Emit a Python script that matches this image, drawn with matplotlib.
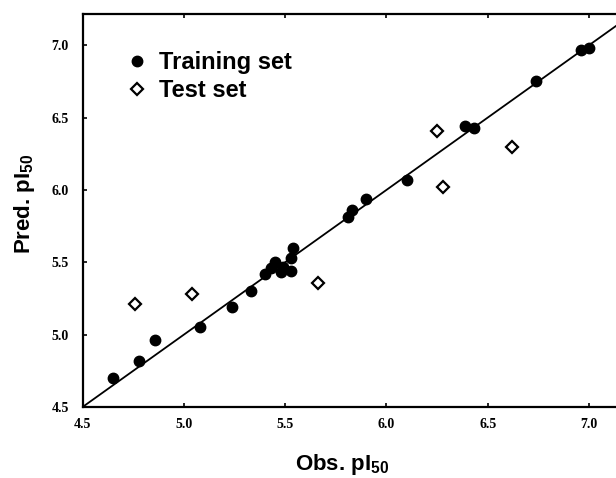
import numpy as np
from matplotlib import pyplot as plt

# training set (filled circles)
train_obs = [4.65, 4.78, 4.86, 5.08, 5.24, 5.33,
             5.40, 5.43, 5.45, 5.48, 5.49, 5.53, 5.53, 5.54,
             5.81, 5.83, 5.90, 6.10, 6.39, 6.43, 6.74, 6.96, 7.00]
train_pred = [4.70, 4.82, 4.96, 5.05, 5.19, 5.30,
              5.42, 5.46, 5.50, 5.43, 5.47, 5.44, 5.53, 5.60,
              5.81, 5.86, 5.94, 6.07, 6.44, 6.43, 6.75, 6.97, 6.98]

# test set (open diamonds)
test_obs = [4.76, 5.04, 5.66, 6.25, 6.28, 6.62]
test_pred = [5.21, 5.28, 5.36, 6.41, 6.02, 6.30]

# regression line
fit_slope = 1.0
fit_intercept = 0.0

xticks = [4.5, 5.0, 5.5, 6.0, 6.5, 7.0]
yticks = [4.5, 5.0, 5.5, 6.0, 6.5, 7.0]

plt.rcParams['font.family'] = 'Liberation Sans'
plt.rcParams['mathtext.fontset'] = 'custom'
plt.rcParams['mathtext.rm'] = 'Liberation Sans:bold'

fig = plt.figure(figsize=(6.16, 4.78), dpi=100)
ax = fig.add_axes([0.134, 0.1485, 0.888, 0.822])

xs = np.array([4.5, 7.2])
ax.plot(xs, fit_slope * xs + fit_intercept, color='black', lw=1.3, zorder=1)

ax.plot(train_obs, train_pred, 'o', color='black', ms=7.5, label='Training set', zorder=3)
ax.plot(test_obs, test_pred, 'D', mfc='white', mec='black', mew=1.6, ms=6,
        label='Test set', zorder=3)

ax.set_xlim(4.5, 7.2)
ax.set_ylim(4.5, 7.215)
ax.set_xticks(xticks)
ax.set_yticks(yticks)
ax.set_xticklabels([f"{t:.1f}" for t in xticks], fontfamily='Liberation Serif',
                   fontweight='bold', fontsize=10)
ax.set_yticklabels([f"{t:.1f}" for t in yticks], fontfamily='Liberation Serif',
                   fontweight='bold', fontsize=10)
ax.tick_params(direction='in', length=3, width=1.2, top=True, right=True)
ax.tick_params(axis='x', pad=8)
ax.tick_params(axis='y', pad=10)
for s in ax.spines.values():
    s.set_linewidth(1.6)

ax.set_xlabel(r"Obs. pI$_{50}$", fontsize=16, fontweight='bold', labelpad=15, x=0.474)
ax.set_ylabel(r"Pred. pI$_{50}$", fontsize=16, fontweight='bold', labelpad=10, y=0.517)

ax.legend(loc='upper left', bbox_to_anchor=(0.06, 0.93), frameon=False,
          prop={'weight': 'bold', 'size': 17}, handletextpad=0.45,
          labelspacing=0.2, handlelength=1.0, borderaxespad=0)

fig.savefig("out.png", dpi=100)
